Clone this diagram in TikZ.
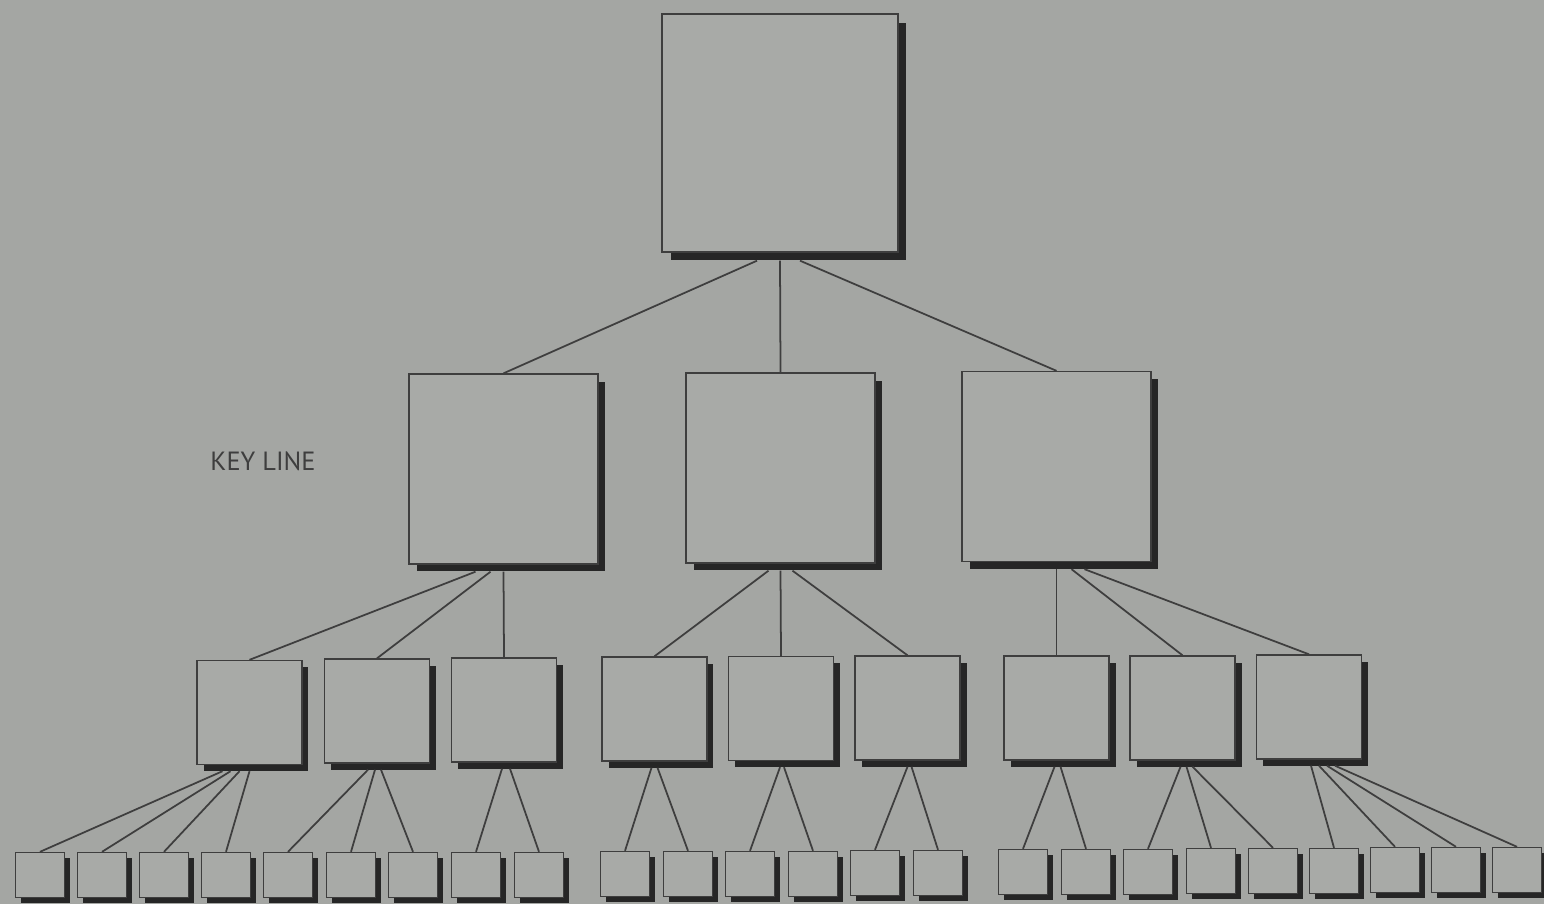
\documentclass[tikz,border=0pt]{standalone}
\usepackage{fontspec}
\setsansfont{PT Sans}
\usepackage{tikz}
\usetikzlibrary{calc}
\usetikzlibrary{shapes,shadows}

\definecolor{paper}{RGB}{164,166,163}
\definecolor{boxfill}{RGB}{168,170,167}
\definecolor{ink}{RGB}{62,62,62}

\begin{document}
\begin{tikzpicture}[x=0.02cm,y=-0.02cm,
    box/.style={rectangle,draw=ink,fill=boxfill,line width=.8pt,inner sep=0pt,
      drop shadow={shadow xshift=#1,shadow yshift=-#1,fill=black!85,opacity=1}},
    chief/.style={box=.17cm,minimum width=4.72cm,minimum height=4.76cm},
    dept/.style={box=.15cm,minimum width=3.78cm,minimum height=3.8cm},
    unit/.style={box=.13cm,minimum width=2.1cm,minimum height=2.08cm},
    leaf/.style={box=.11cm,minimum width=.98cm,minimum height=.9cm},
    link/.style={draw=ink,line width=1pt}]
    \fill[paper] (0,0) rectangle (1544,904);
    \useasboundingbox (0,0) rectangle (1544,904);
    % \draw[help lines] (0,0) grid (1544,904);
    \node[chief] (top) at (780,133) {};
    \node[dept]  (a) at (503.5,469) {};
    \node[dept]  (b) at (780.5,468) {};
    \node[dept]  (c) at (1056.5,466.5) {};
    \foreach \x/\y [count=\i] in {249.5/712.5,377/711,504/710,654.5/709,781/708.5,
        907.5/708,1056.5/708,1182.5/708,1309/707}
      \node[unit] (u\i) at (\x,\y) {};
    \foreach \x/\y [count=\i] in {40/875,102/875,164/875,226/875,288/875,351/875,
        413/875,476/875,539/875,625/874,688/874,750/874,813/874,875/873,938/873,
        1023/872,1086/872,1148/872,1211/871,1273/871,1334/871,1395/870,1456/870,1517/870}
      \node[leaf] (l\i) at (\x,\y) {};
    \node[font=\sffamily\fontsize{15}{18}\selectfont,text=ink] (key) at (263,461) {KEY LINE};
    \path[link]
    ($(top.south)+(-23,8)$) edge (a.north)
    ($(top.south)+(0,8)$)   edge (b.north)
    ($(top.south)+(20,8)$)  edge (c.north)
    ($(a.south)+(-28,7)$)   edge (u1.north)
    ($(a.south)+(-13,7)$)   edge (u2.north)
    ($(a.south)+(0,7)$)     edge (u3.north)
    ($(b.south)+(-12,7)$)   edge (u4.north)
    ($(b.south)+(0,7)$)     edge (u5.north)
    ($(b.south)+(12,7)$)    edge (u6.north)
    ($(c.south)+(0,7)$)     edge (u7.north)
    ($(c.south)+(15,7)$)    edge (u8.north)
    ($(c.south)+(28,7)$)    edge (u9.north);
    \foreach \p/\o/\c in {u1/-27/1,u1/-19/2,u1/-10/3,u1/0/4,
        u2/-9/5,u2/-2/6,u2/4/7,u3/-2/8,u3/6/9,
        u4/-3/10,u4/3/11,u5/-1/12,u5/3/13,u6/0/14,u6/4/15,
        u7/-2/16,u7/4/17,u8/-2/18,u8/4/19,u8/10/20,
        u9/2/21,u9/10/22,u9/18/23,u9/26/24}
      \draw[link] ($(\p.south)+(\o,6)$) -- (l\c.north);
  \end{tikzpicture}
\end{document}
